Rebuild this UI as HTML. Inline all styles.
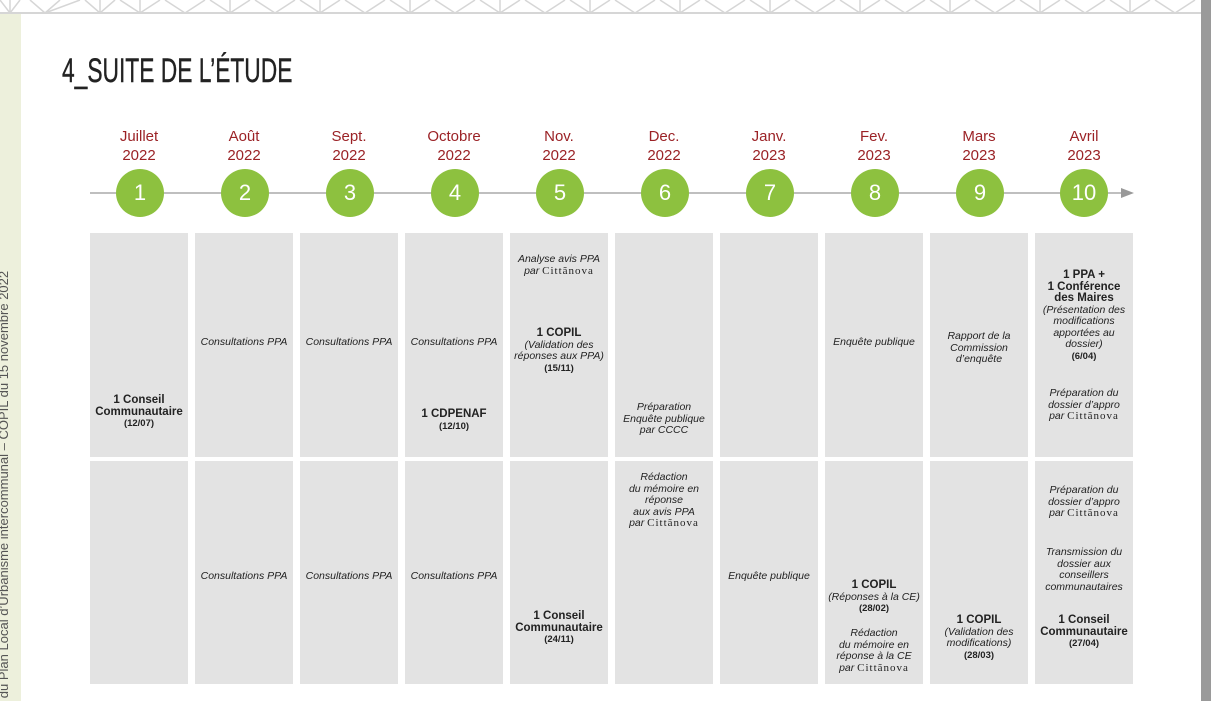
<!DOCTYPE html>
<html style="overflow:hidden"><head><meta charset="utf-8"><style>
body{margin:0;width:1211px;height:701px;position:relative;overflow:hidden;background:#fff;font-family:"Liberation Sans",sans-serif}
.side{position:absolute;left:0;top:14px;width:21px;height:687px;background:#edf0dc}
.rb{position:absolute;left:1201px;top:0;width:10px;height:701px;background:#9a9a9a}
.cell{position:absolute;width:98px;background:#e3e3e3}
.m{position:absolute;width:98px;text-align:center;color:#9b2226;font-size:15px;line-height:19px}
.c{position:absolute;width:48px;height:48px;border-radius:50%;background:#8dc13f;color:#fff;font-size:22px;line-height:48px;text-align:center}
.t{position:absolute;width:98px;text-align:center;font-size:10.5px;line-height:11.5px;color:#222}
.i{font-style:italic}
.b{font-weight:bold;font-size:11.5px}
.s{font-weight:bold;font-size:9.5px}
.cn{font-family:"Liberation Serif",serif;font-style:normal;letter-spacing:1px;font-size:11px}
</style></head><body>
<svg style="position:absolute;left:0;top:0" width="1201" height="16">
<line x1="0" y1="13" x2="1201" y2="13" stroke="#d6d6d6" stroke-width="2"/>
<g stroke="#d6d6d6" stroke-width="1.5" fill="none">
<path d="M0 0 L10 13 L20 0 M10 13 V0 M30 0 L45 13 L60 0 M45 13 L80 0 M85 0 L100 13 L115 0 M100 13 V0"/>
<path d="M120 0 L140 13 L160 0 M140 13 V0 M165 0 L185 13 L205 0 M210 0 L230 13 L250 0 M230 13 V0 M255 0 L275 13 L295 0 M300 0 L320 13 L340 0 M320 13 V0 M345 0 L365 13 L385 0 M390 0 L410 13 L430 0 M410 13 V0 M435 0 L455 13 L475 0 M480 0 L500 13 L520 0 M500 13 V0 M525 0 L545 13 L565 0 M570 0 L590 13 L610 0 M590 13 V0 M615 0 L635 13 L655 0 M660 0 L680 13 L700 0 M680 13 V0 M705 0 L725 13 L745 0 M750 0 L770 13 L790 0 M770 13 V0 M795 0 L815 13 L835 0 M840 0 L860 13 L880 0 M860 13 V0 M885 0 L905 13 L925 0 M930 0 L950 13 L970 0 M950 13 V0 M975 0 L995 13 L1015 0 M1020 0 L1040 13 L1060 0 M1040 13 V0 M1065 0 L1085 13 L1105 0 M1110 0 L1130 13 L1150 0 M1130 13 V0 M1155 0 L1175 13 L1195 0"/>
</g></svg>
<div class="side"></div><div class="rb"></div>
<div style="position:absolute;left:62px;top:52px;font-size:34px;color:#222;-webkit-text-stroke:0.4px #222;transform:scaleX(.67);transform-origin:left top;white-space:nowrap">4_SUITE DE L’ÉTUDE</div>
<svg style="position:absolute;left:0;top:0" width="1201" height="220"><line x1="90" y1="193" x2="1124" y2="193" stroke="#999" stroke-width="1.3"/><path d="M1121 188 L1134 193 L1121 198 Z" fill="#999"/></svg>

<div class="m" style="left:90px;top:127px">Juillet<br>2022</div>
<div class="m" style="left:195px;top:127px">Août<br>2022</div>
<div class="m" style="left:300px;top:127px">Sept.<br>2022</div>
<div class="m" style="left:405px;top:127px">Octobre<br>2022</div>
<div class="m" style="left:510px;top:127px">Nov.<br>2022</div>
<div class="m" style="left:615px;top:127px">Dec.<br>2022</div>
<div class="m" style="left:720px;top:127px">Janv.<br>2023</div>
<div class="m" style="left:825px;top:127px">Fev.<br>2023</div>
<div class="m" style="left:930px;top:127px">Mars<br>2023</div>
<div class="m" style="left:1035px;top:127px">Avril<br>2023</div>

<div class="c" style="left:116px;top:169px">1</div>
<div class="c" style="left:221px;top:169px">2</div>
<div class="c" style="left:326px;top:169px">3</div>
<div class="c" style="left:431px;top:169px">4</div>
<div class="c" style="left:536px;top:169px">5</div>
<div class="c" style="left:641px;top:169px">6</div>
<div class="c" style="left:746px;top:169px">7</div>
<div class="c" style="left:851px;top:169px">8</div>
<div class="c" style="left:956px;top:169px">9</div>
<div class="c" style="left:1060px;top:169px">10</div>

<div class="cell" style="left:90px;top:233px;height:224px"></div><div class="cell" style="left:90px;top:461px;height:223px"></div>
<div class="cell" style="left:195px;top:233px;height:224px"></div><div class="cell" style="left:195px;top:461px;height:223px"></div>
<div class="cell" style="left:300px;top:233px;height:224px"></div><div class="cell" style="left:300px;top:461px;height:223px"></div>
<div class="cell" style="left:405px;top:233px;height:224px"></div><div class="cell" style="left:405px;top:461px;height:223px"></div>
<div class="cell" style="left:510px;top:233px;height:224px"></div><div class="cell" style="left:510px;top:461px;height:223px"></div>
<div class="cell" style="left:615px;top:233px;height:224px"></div><div class="cell" style="left:615px;top:461px;height:223px"></div>
<div class="cell" style="left:720px;top:233px;height:224px"></div><div class="cell" style="left:720px;top:461px;height:223px"></div>
<div class="cell" style="left:825px;top:233px;height:224px"></div><div class="cell" style="left:825px;top:461px;height:223px"></div>
<div class="cell" style="left:930px;top:233px;height:224px"></div><div class="cell" style="left:930px;top:461px;height:223px"></div>
<div class="cell" style="left:1035px;top:233px;height:224px"></div><div class="cell" style="left:1035px;top:461px;height:223px"></div>

<div class="t" style="left:90px;top:395px"><span class="b">1 Conseil<br>Communautaire</span><br><span class="s">(12/07)</span></div>
<div class="t i" style="left:195px;top:337px">Consultations PPA</div>
<div class="t i" style="left:300px;top:337px">Consultations PPA</div>
<div class="t i" style="left:405px;top:337px">Consultations PPA</div>
<div class="t" style="left:405px;top:409px"><span class="b">1 CDPENAF</span><br><span class="s">(12/10)</span></div>
<div class="t i" style="left:510px;top:254px">Analyse avis PPA<br>par <span class="cn">Cittãnova</span></div>
<div class="t" style="left:510px;top:328px"><span class="b">1 COPIL</span><br><span class="i">(Validation des<br>réponses aux PPA)</span><br><span class="s">(15/11)</span></div>
<div class="t i" style="left:615px;top:402px">Préparation<br>Enquête publique<br>par CCCC</div>
<div class="t i" style="left:825px;top:337px">Enquête publique</div>
<div class="t i" style="left:930px;top:331px">Rapport de la<br>Commission<br>d’enquête</div>
<div class="t" style="left:1035px;top:270px"><span class="b">1 PPA +<br>1 Conférence<br>des Maires</span><br><span class="i">(Présentation des<br>modifications<br>apportées au<br>dossier)</span><br><span class="s">(6/04)</span></div>
<div class="t i" style="left:1035px;top:388px">Préparation du<br>dossier d’appro<br>par <span class="cn">Cittãnova</span></div>

<div class="t i" style="left:195px;top:571px">Consultations PPA</div>
<div class="t i" style="left:300px;top:571px">Consultations PPA</div>
<div class="t i" style="left:405px;top:571px">Consultations PPA</div>
<div class="t" style="left:510px;top:611px"><span class="b">1 Conseil<br>Communautaire</span><br><span class="s">(24/11)</span></div>
<div class="t i" style="left:615px;top:472px">Rédaction<br>du mémoire en<br>réponse<br>aux avis PPA<br>par <span class="cn">Cittãnova</span></div>
<div class="t i" style="left:720px;top:571px">Enquête publique</div>
<div class="t" style="left:825px;top:580px"><span class="b">1 COPIL</span><br><span class="i">(Réponses à la CE)</span><br><span class="s">(28/02)</span></div>
<div class="t i" style="left:825px;top:628px">Rédaction<br>du mémoire en<br>réponse à la CE<br>par <span class="cn">Cittãnova</span></div>
<div class="t" style="left:930px;top:615px"><span class="b">1 COPIL</span><br><span class="i">(Validation des<br>modifications)</span><br><span class="s">(28/03)</span></div>
<div class="t i" style="left:1035px;top:485px">Préparation du<br>dossier d’appro<br>par <span class="cn">Cittãnova</span></div>
<div class="t i" style="left:1035px;top:547px">Transmission du<br>dossier aux<br>conseillers<br>communautaires</div>
<div class="t" style="left:1035px;top:615px"><span class="b">1 Conseil<br>Communautaire</span><br><span class="s">(27/04)</span></div>

<div style="position:absolute;left:-4px;top:730px;transform:rotate(-90deg);transform-origin:left top;white-space:nowrap;font-size:13px;color:#555">ation du Plan Local d’Urbanisme intercommunal – COPIL du 15 novembre 2022</div>
</body></html>
